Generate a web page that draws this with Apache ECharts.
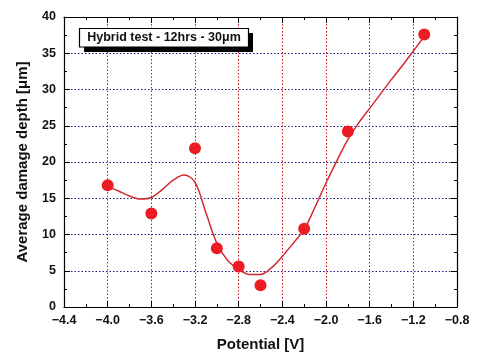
<!DOCTYPE html>
<html><head><meta charset="utf-8">
<script src="https://cdn.jsdelivr.net/npm/echarts@6/dist/echarts.min.js"></script>
<style>html,body{margin:0;padding:0;background:#fff}#c{width:488px;height:362px}</style>
</head><body><div id="c"></div>
<script>
var potentials = [-4.0, -3.6, -3.2, -3.0, -2.8, -2.6, -2.2, -1.8, -1.1];
var depths = [16.8, 12.9, 21.9, 8.1, 5.6, 3.0, 10.8, 24.2, 37.6];
var fitX = [-4.0,-3.9,-3.8,-3.7,-3.6,-3.5,-3.4,-3.3,-3.2,-3.1,-3.0,-2.9,-2.8,-2.7,-2.6,-2.5,-2.4,-2.3,-2.2,-2.1,-2.0,-1.9,-1.8,-1.7,-1.6,-1.5,-1.4,-1.3,-1.2,-1.1];
var fitY = [16.6,16.0,15.3,14.9,15.1,16.2,17.5,18.2,17.2,13.0,8.8,6.4,5.2,4.5,4.5,5.4,7.0,8.8,10.7,13.8,17.1,20.2,23.1,25.4,27.4,29.4,31.4,33.3,35.3,37.3];
var legendText = 'Hybrid test - 12hrs - 30\u03bcm';
var xTitle = 'Potential [V]';
var yTitle = 'Average damage depth [\u03bcm]';

var font = 'Liberation Sans, Arial, sans-serif';
var chart = echarts.init(document.getElementById('c'), null, {renderer:'canvas'});
function fmtX(v){ return (v<0?'\u2212':'') + Math.abs(v).toFixed(1); }
var baseX = {type:'value', min:-4.4, max:-0.8, interval:0.4,
  axisLine:{show:true, onZero:false, lineStyle:{color:'#000', width:1.2}},
  axisTick:{show:true, inside:true, length:6, lineStyle:{color:'#000'}},
  minorTick:{show:true, splitNumber:2, length:3, lineStyle:{color:'#000'}}};
var baseY = {type:'value', min:0, max:40, interval:5,
  axisLine:{show:true, onZero:false, lineStyle:{color:'#000', width:1.2}},
  axisTick:{show:true, inside:true, length:6, lineStyle:{color:'#000'}},
  minorTick:{show:true, splitNumber:2, length:3, lineStyle:{color:'#000'}}};
var option = {
  animation:false,
  grid:{left:64, right:31, top:17, bottom:55, containLabel:false},
  xAxis:[
    Object.assign({}, baseX, {position:'bottom',
      name:xTitle, nameLocation:'middle', nameGap:30,
      nameTextStyle:{fontFamily:font, fontWeight:'bold', fontSize:15, color:'#111'},
      axisLabel:{formatter:fmtX, fontFamily:font, fontWeight:'bold', fontSize:12.5, color:'#111', margin:7},
      splitLine:{show:true, lineStyle:{color:'#d0101a', type:[1.5,2], width:1}}}),
    Object.assign({}, baseX, {position:'top', axisLabel:{show:false}, splitLine:{show:false}})
  ],
  yAxis:[
    Object.assign({}, baseY, {position:'left',
      name:yTitle, nameLocation:'middle', nameGap:34, nameRotate:90,
      nameTextStyle:{fontFamily:font, fontWeight:'bold', fontSize:15, color:'#111'},
      axisLabel:{fontFamily:font, fontWeight:'bold', fontSize:12.5, color:'#111', margin:8},
      splitLine:{show:true, lineStyle:{color:'#1a1a7a', type:[1.5,2], width:1}}}),
    Object.assign({}, baseY, {position:'right', axisLabel:{show:false}, splitLine:{show:false}})
  ],
  series:[
    {type:'line', data:fitX.map(function(x,i){return [x, fitY[i]];}), smooth:0.35,
     showSymbol:false, symbol:'none', lineStyle:{color:'#d42a30', width:1.5}, z:2},
    {type:'scatter', data:potentials.map(function(x,i){return [x, depths[i]];}),
     symbol:'circle', symbolSize:12, itemStyle:{color:'#ec1c24', opacity:1}, z:3}
  ],
  graphic:[
    {type:'rect', shape:{x:84, y:33, width:169, height:19}, style:{fill:'#000'}, z:10},
    {type:'rect', shape:{x:79.5, y:28.5, width:169, height:18.5}, style:{fill:'#fff', stroke:'#000', lineWidth:1.2}, z:11},
    {type:'text', x:164, y:38, style:{text:legendText, fontFamily:font, fontWeight:'bold', fontSize:12.5, fill:'#111', align:'center', verticalAlign:'middle'}, z:12}
  ]
};
chart.setOption(option);
</script></body></html>
